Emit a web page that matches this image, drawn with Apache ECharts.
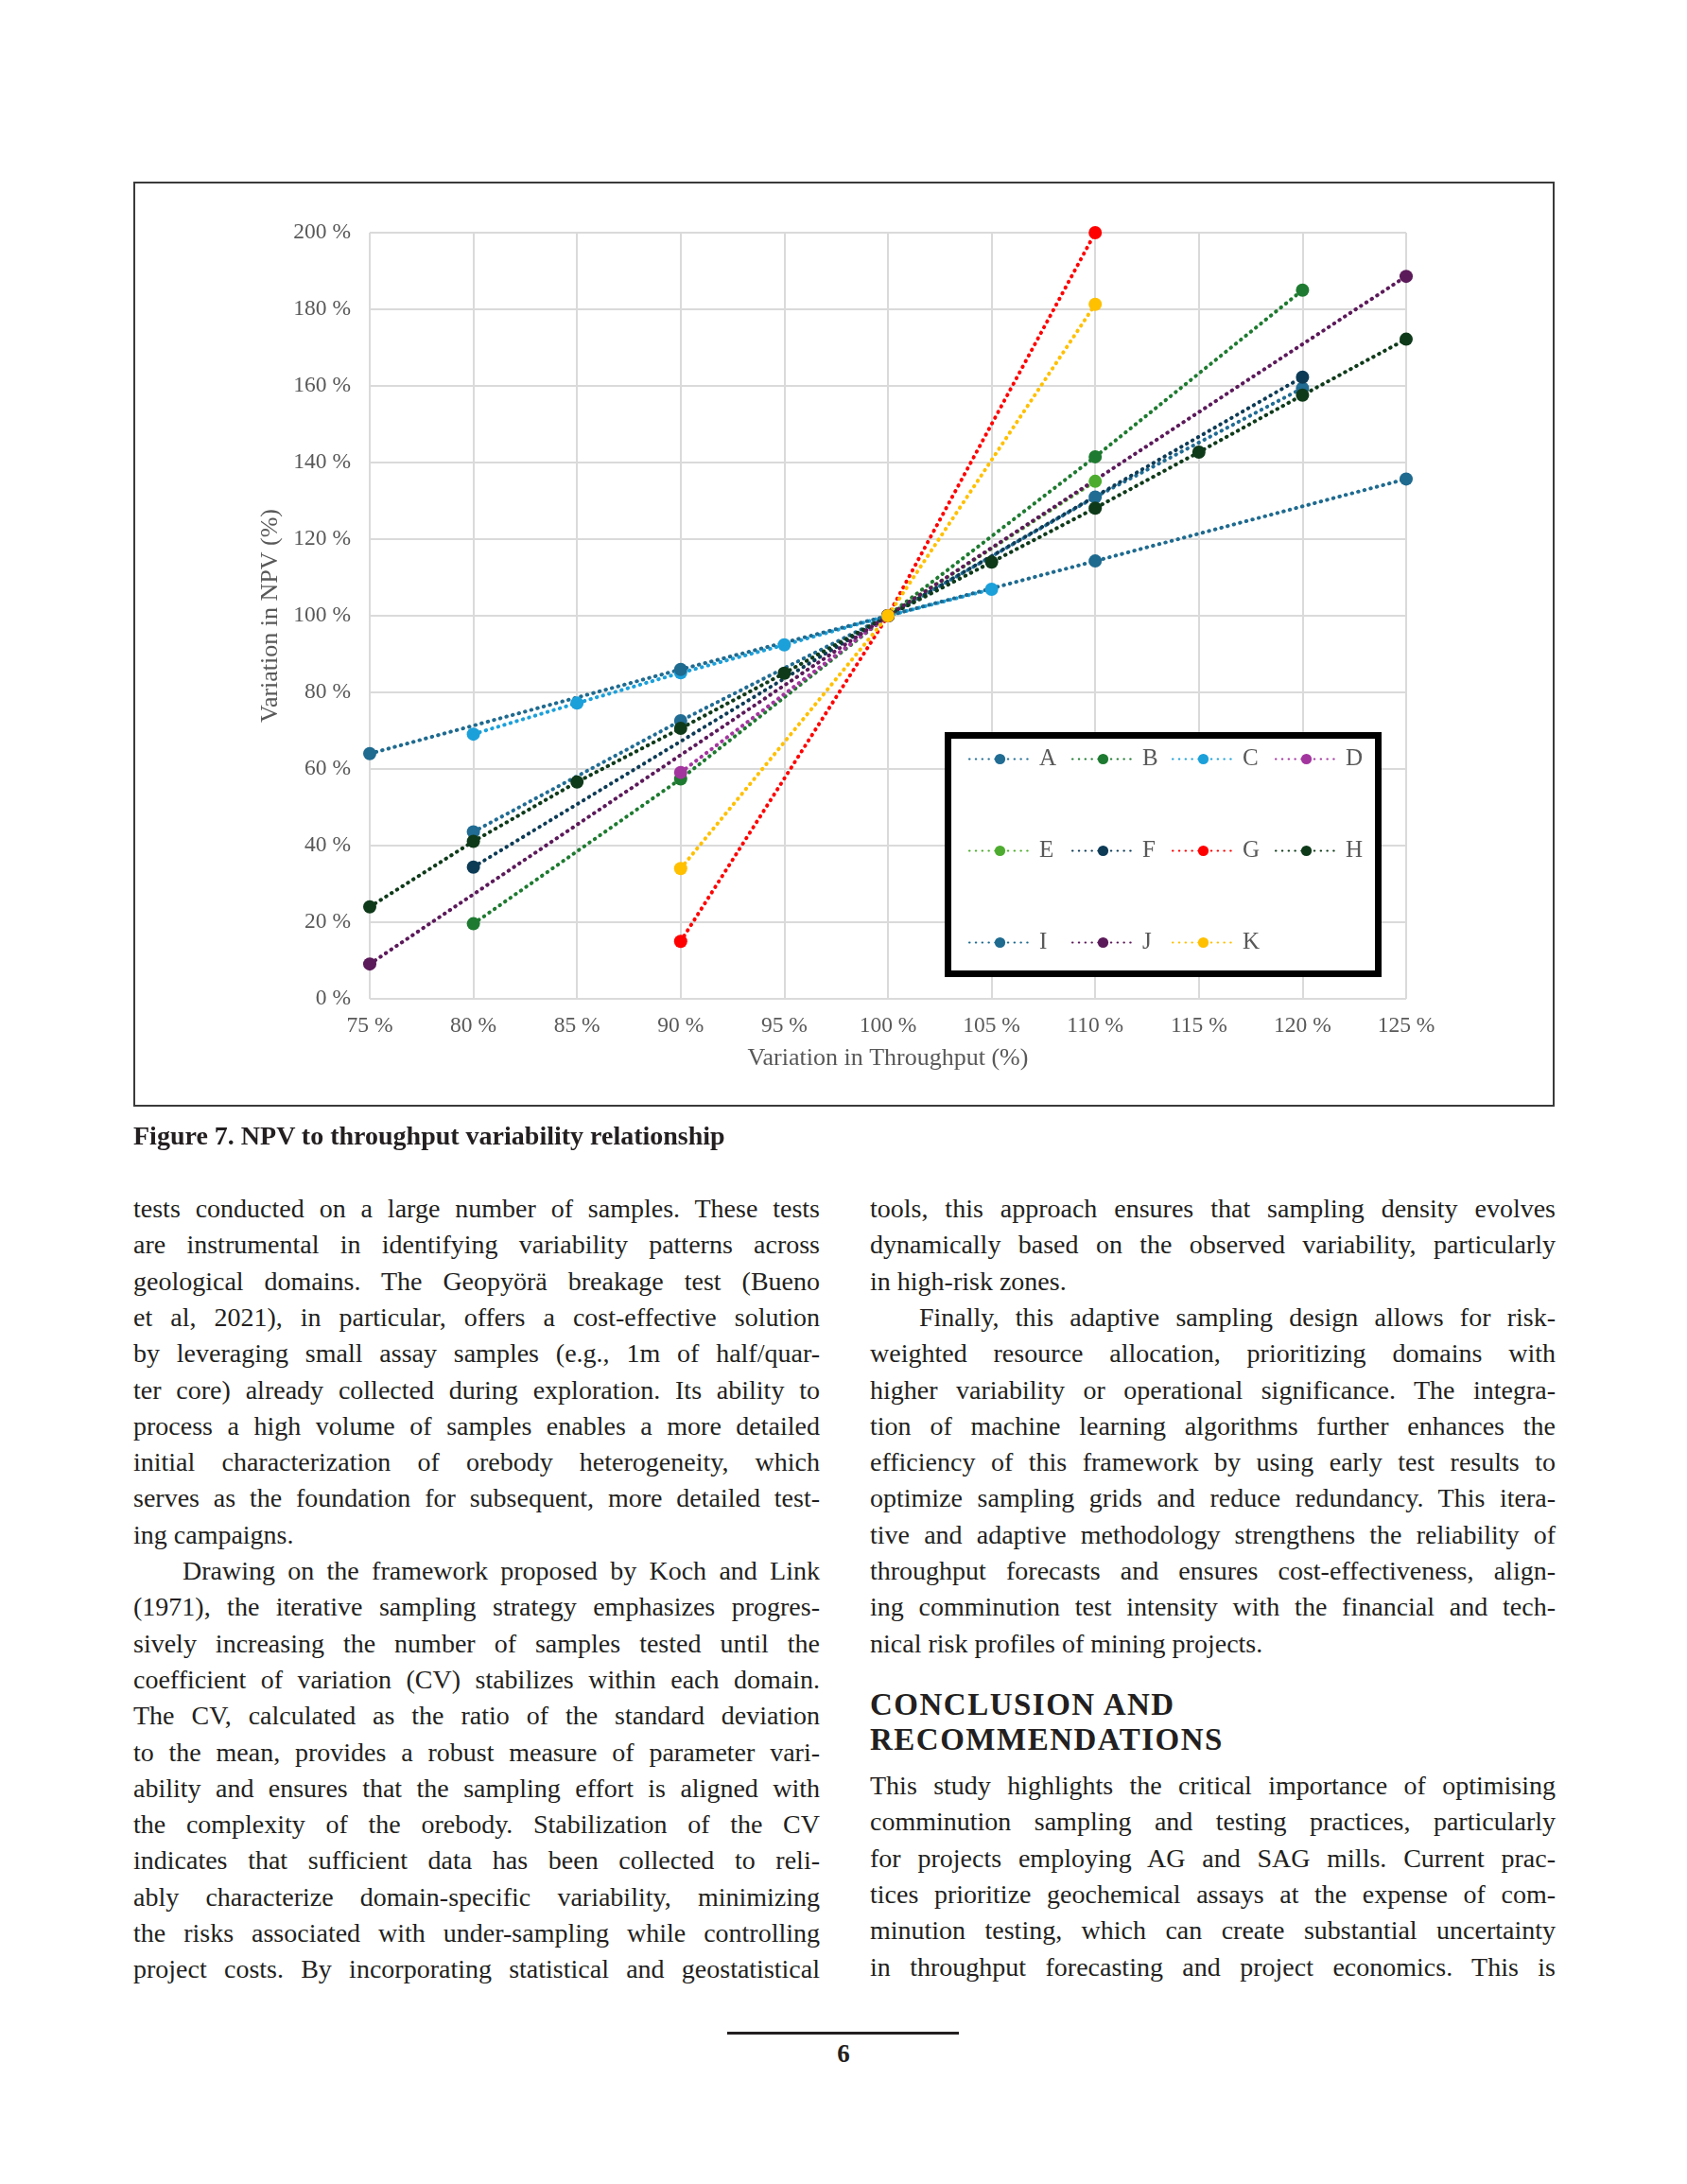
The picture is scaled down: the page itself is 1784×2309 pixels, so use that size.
<!DOCTYPE html>
<html>
<head>
<meta charset="utf-8">
<script src="https://cdn.jsdelivr.net/npm/echarts/dist/echarts.min.js"></script>
<style>
  html, body { margin:0; padding:0; background:#fff; }
  #page { position:relative; width:1784px; height:2309px; overflow:hidden; background:#fff; }
  #chart { position:absolute; left:0; top:0; width:1784px; height:1200px; }
  #frame { position:absolute; left:141px; top:192px; width:1503px; height:978px; border:2px solid #3a3a3a; box-sizing:border-box; pointer-events:none; }
  .ln { position:absolute; height:38px; line-height:38px; font-family:'Liberation Serif', serif; font-size:28px; color:#231f20; white-space:nowrap; text-align:justify; text-align-last:justify; }
  .last { text-align:left; text-align-last:left; }
  .ind { text-indent:52px; }
  .cap { position:absolute; left:141px; top:1185px; font-family:'Liberation Serif', serif; font-weight:bold; font-size:28px; color:#231f20; white-space:nowrap; }
  .hd { position:absolute; left:920px; font-family:'Liberation Serif', serif; font-weight:bold; font-size:33px; letter-spacing:1.5px; color:#231f20; white-space:nowrap; line-height:37px; }
  #rule { position:absolute; left:769px; top:2148px; width:245px; height:3px; background:#231f20; }
  #pno { position:absolute; left:0; width:1784px; top:2156px; text-align:center; font-family:'Liberation Serif', serif; font-weight:bold; font-size:27px; color:#231f20; }
</style>
</head>
<body>
<div id="page">
  <div id="chart"></div>
  <div id="frame"></div>
  <div class="cap">Figure 7. NPV to throughput variability relationship</div>
  <div id="text"></div>
  <div class="hd" style="top:1784px;">CONCLUSION AND</div>
  <div class="hd" style="top:1821px;">RECOMMENDATIONS</div>
  <div id="rule"></div>
  <div id="pno">6</div>
</div>
<script>
// ---------------- DATA ----------------
const throughput = [75, 80, 85, 90, 95, 100, 105, 110, 115, 120, 125];
const seriesNames = ['A','B','C','D','E','F','G','H','I','J','K'];
const A = [null, 43.6, null, 72.6, null, 100, null, 131.0, null, 159.4, null];
const B = [null, 19.6, null, 57.4, null, 100, null, 141.5, null, 185.0, null];
const C = [null, 69.1, 77.2, 85.1, 92.4, 100, 106.9, null, null, null, null];
const D = [null, null, null, 59.1, null, 100, null, null, null, null, null];
const E = [null, null, null, null, null, 100, null, 135.1, null, null, null];
const F = [null, 34.4, null, null, null, 100, null, null, null, 162.3, null];
const G = [null, null, null, 15.0, null, 100, null, 200.0, null, null, null];
const H = [24.0, 41.1, 56.6, 70.6, 85.0, 100, 114.0, 128.1, 142.7, 157.6, 172.2];
const I = [64.0, null, null, 86.0, null, 100, null, 114.3, null, null, 135.7];
const J = [9.1, null, null, null, null, 100, null, null, null, null, 188.6];
const K = [null, null, null, 34.0, null, 100, null, 181.3, null, null, null];
const seriesValues = [A, B, C, D, E, F, G, H, I, J, K];
const yTicks = [0, 20, 40, 60, 80, 100, 120, 140, 160, 180, 200];

// ---------------- STYLE ----------------
const colors = {
  A:'#216c93', B:'#1e7a30', C:'#1ba0da', D:'#a3359f', E:'#4dac2f', F:'#0d3b56',
  G:'#ff0000', H:'#0f3a1a', I:'#1f6a8f', J:'#5b1a5a', K:'#ffc000'
};
const serif = 'Liberation Serif';
const grey = '#595959';
const legendCols = [1024, 1133, 1239, 1348];
const legendRows = [790, 887, 984];

const chart = echarts.init(document.getElementById('chart'), null, {renderer:'canvas'});

const series = seriesNames.map((n, si) => ({
  name: n,
  type: 'line',
  data: throughput.map((x, i) => seriesValues[si][i] == null ? null : [x, seriesValues[si][i]]).filter(p => p),
  connectNulls: true,
  symbol: 'circle',
  symbolSize: 14,
  showSymbol: true,
  showAllSymbol: true,
  itemStyle: { color: colors[n] },
  lineStyle: { color: colors[n], width: 4, type: [0.5, 6.3], cap: 'round' },
  emphasis: { disabled: true },
  animation: false
}));

const legends = seriesNames.map((n, i) => ({
  data: [n],
  left: legendCols[i % 4],
  top: legendRows[Math.floor(i / 4)],
  orient: 'horizontal',
  padding: 0,
  itemWidth: 65,
  itemHeight: 14,
  selectedMode: false,
  z: 30,
  textStyle: { fontFamily: serif, fontSize: 25, color: grey, padding: [0, 0, 0, 4] }
}));

const option = {
  animation: false,
  backgroundColor: '#ffffff',
  grid: { left: 391, right: 297, top: 246, bottom: 144, containLabel: false },
  xAxis: {
    type: 'value', min: 75, max: 125, interval: 5,
    name: 'Variation in Throughput (%)', nameLocation: 'middle', nameGap: 50,
    nameTextStyle: { fontFamily: serif, fontSize: 26, color: grey },
    axisLine: { show: false }, axisTick: { show: false },
    axisLabel: { fontFamily: serif, fontSize: 23.5, color: grey, margin: 17, formatter: v => v + ' %' },
    splitLine: { show: true, lineStyle: { color: '#dadada', width: 2 } }
  },
  yAxis: {
    type: 'value', min: yTicks[0], max: yTicks[yTicks.length - 1], interval: 20,
    name: 'Variation in NPV (%)', nameLocation: 'middle', nameGap: 90, nameRotate: 90,
    nameTextStyle: { fontFamily: serif, fontSize: 26, color: grey },
    axisLine: { show: false }, axisTick: { show: false },
    axisLabel: { fontFamily: serif, fontSize: 23.5, color: grey, margin: 20, formatter: v => v + ' %' },
    splitLine: { show: true, lineStyle: { color: '#dadada', width: 2 } }
  },
  legend: legends,
  graphic: [{
    type: 'rect', z: 25,
    shape: { x: 1002.5, y: 777.5, width: 455, height: 252 },
    style: { fill: '#ffffff', stroke: '#000000', lineWidth: 7 }
  }],
  series: series
};
chart.setOption(option);

// ---------------- BODY TEXT ----------------
const col1 = [
  ['tests conducted on a large number of samples. These tests',''],
  ['are instrumental in identifying variability patterns across',''],
  ['geological domains. The Geopyörä breakage test (Bueno',''],
  ['et al, 2021), in particular, offers a cost-effective solution',''],
  ['by leveraging small assay samples (e.g., 1m of half/quar-',''],
  ['ter core) already collected during exploration. Its ability to',''],
  ['process a high volume of samples enables a more detailed',''],
  ['initial characterization of orebody heterogeneity, which',''],
  ['serves as the foundation for subsequent, more detailed test-',''],
  ['ing campaigns.','last'],
  ['Drawing on the framework proposed by Koch and Link','ind'],
  ['(1971), the iterative sampling strategy emphasizes progres-',''],
  ['sively increasing the number of samples tested until the',''],
  ['coefficient of variation (CV) stabilizes within each domain.',''],
  ['The CV, calculated as the ratio of the standard deviation',''],
  ['to the mean, provides a robust measure of parameter vari-',''],
  ['ability and ensures that the sampling effort is aligned with',''],
  ['the complexity of the orebody. Stabilization of the CV',''],
  ['indicates that sufficient data has been collected to reli-',''],
  ['ably characterize domain-specific variability, minimizing',''],
  ['the risks associated with under-sampling while controlling',''],
  ['project costs. By incorporating statistical and geostatistical','']
];
const col2a = [
  ['tools, this approach ensures that sampling density evolves',''],
  ['dynamically based on the observed variability, particularly',''],
  ['in high-risk zones.','last'],
  ['Finally, this adaptive sampling design allows for risk-','ind'],
  ['weighted resource allocation, prioritizing domains with',''],
  ['higher variability or operational significance. The integra-',''],
  ['tion of machine learning algorithms further enhances the',''],
  ['efficiency of this framework by using early test results to',''],
  ['optimize sampling grids and reduce redundancy. This itera-',''],
  ['tive and adaptive methodology strengthens the reliability of',''],
  ['throughput forecasts and ensures cost-effectiveness, align-',''],
  ['ing comminution test intensity with the financial and tech-',''],
  ['nical risk profiles of mining projects.','last']
];
const col2b = [
  ['This study highlights the critical importance of optimising',''],
  ['comminution sampling and testing practices, particularly',''],
  ['for projects employing AG and SAG mills. Current prac-',''],
  ['tices prioritize geochemical assays at the expense of com-',''],
  ['minution testing, which can create substantial uncertainty',''],
  ['in throughput forecasting and project economics. This is','']
];
const holder = document.getElementById('text');
function place(lines, left, width, firstCenter, step) {
  lines.forEach((l, i) => {
    const d = document.createElement('div');
    d.className = 'ln ' + l[1];
    d.style.left = left + 'px';
    d.style.width = width + 'px';
    d.style.top = (firstCenter + i * step - 19) + 'px';
    d.textContent = l[0];
    holder.appendChild(d);
  });
}
place(col1, 141, 726, 1278, 38.3);
place(col2a, 920, 725, 1278, 38.3);
place(col2b, 920, 725, 1888, 38.3);
</script>
</body>
</html>
